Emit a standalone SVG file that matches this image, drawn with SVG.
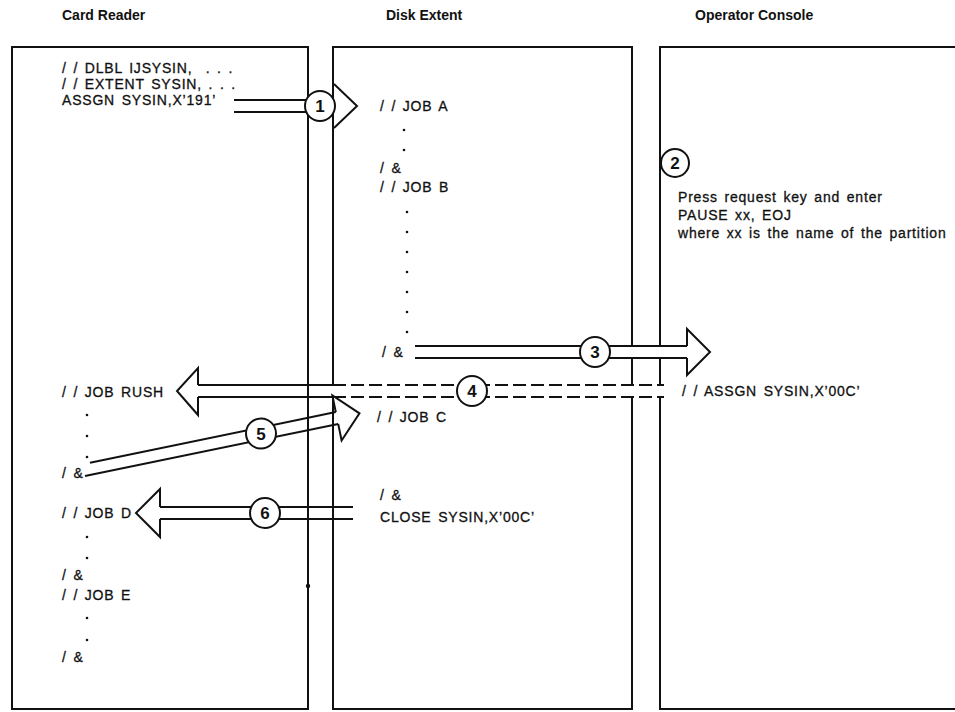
<svg xmlns="http://www.w3.org/2000/svg" width="955" height="712" viewBox="0 0 955 712">
<style>
.bg{fill:#fff}
.box{fill:none;stroke:#111;stroke-width:2}
.ln{fill:none;stroke:#111;stroke-width:2}
.dash{fill:none;stroke:#111;stroke-width:2;stroke-dasharray:13 5}
.hd{fill:#fff;stroke:#111;stroke-width:2;stroke-linejoin:miter}
.wh{fill:#fff;stroke:none}
.num circle{fill:#fff;stroke:#111;stroke-width:2}
.num text{font-family:"Liberation Sans",Arial,sans-serif;font-weight:bold;font-size:17px;text-anchor:middle;fill:#111}
.t{font-family:"Liberation Sans",Arial,sans-serif;font-size:14px;letter-spacing:0.8px;word-spacing:2px;fill:#111;stroke:#111;stroke-width:0.3}
.h{font-family:"Liberation Sans",Arial,sans-serif;font-size:14px;font-weight:bold;fill:#111}
.dot{fill:#111}
</style>
<rect class="bg" x="0" y="0" width="955" height="712"/>

<g id="card-reader">
  <text class="h" x="62" y="20">Card Reader</text>
  <rect class="box" x="12" y="47" width="296" height="662"/>
  <circle class="dot" cx="308" cy="586" r="2.2"/>
  <text class="t" xml:space="preserve" x="62" y="73">/ / DLBL IJSYSIN,  . . .</text>
  <text class="t" xml:space="preserve" x="62" y="89">/ / EXTENT SYSIN, . . .</text>
  <text class="t" x="62" y="105">ASSGN SYSIN,X’191’</text>
  <text class="t" xml:space="preserve" x="62" y="397">/ / JOB RUSH</text>
  <circle class="dot" cx="87" cy="415" r="1.3"/>
  <circle class="dot" cx="87" cy="436" r="1.3"/>
  <circle class="dot" cx="87" cy="457" r="1.3"/>
  <text class="t" xml:space="preserve" x="62" y="478">/ &amp;</text>
  <text class="t" xml:space="preserve" x="62" y="518">/ / JOB D</text>
  <circle class="dot" cx="87" cy="537" r="1.3"/>
  <circle class="dot" cx="87" cy="558" r="1.3"/>
  <text class="t" xml:space="preserve" x="62" y="580">/ &amp;</text>
  <text class="t" xml:space="preserve" x="62" y="600">/ / JOB E</text>
  <circle class="dot" cx="87" cy="618" r="1.3"/>
  <circle class="dot" cx="87" cy="640" r="1.3"/>
  <text class="t" xml:space="preserve" x="62" y="662">/ &amp;</text>
</g>

<g id="disk-extent">
  <text class="h" x="386" y="20">Disk Extent</text>
  <rect class="box" x="333" y="47" width="299" height="662"/>
  <text class="t" xml:space="preserve" x="380" y="111">/ / JOB A</text>
  <circle class="dot" cx="404" cy="130" r="1.3"/>
  <circle class="dot" cx="404" cy="150" r="1.3"/>
  <text class="t" xml:space="preserve" x="380" y="173">/ &amp;</text>
  <text class="t" xml:space="preserve" x="380" y="192">/ / JOB B</text>
  <circle class="dot" cx="407" cy="212" r="1.3"/>
  <circle class="dot" cx="407" cy="232" r="1.3"/>
  <circle class="dot" cx="407" cy="252" r="1.3"/>
  <circle class="dot" cx="407" cy="272" r="1.3"/>
  <circle class="dot" cx="407" cy="292" r="1.3"/>
  <circle class="dot" cx="407" cy="312" r="1.3"/>
  <circle class="dot" cx="407" cy="332" r="1.3"/>
  <text class="t" xml:space="preserve" x="382" y="357">/ &amp;</text>
  <text class="t" xml:space="preserve" x="377" y="422">/ / JOB C</text>
  <text class="t" xml:space="preserve" x="380" y="500">/ &amp;</text>
  <text class="t" x="380" y="522">CLOSE SYSIN,X’00C’</text>
</g>

<g id="operator-console">
  <text class="h" x="695" y="20">Operator Console</text>
  <path class="box" d="M957 47 H660 V709 H957"/>
  <text class="t" x="678" y="202">Press request key and enter</text>
  <text class="t" x="678" y="220">PAUSE xx, EOJ</text>
  <text class="t" x="678" y="238">where xx is the name of the partition</text>
  <text class="t" xml:space="preserve" x="682" y="396">/ / ASSGN SYSIN,X’00C’</text>
</g>

<g id="connectors">
  <!-- 1 -->
  <path class="ln" d="M234 100 H306 M234 112 H306"/>
  <path class="hd" d="M334 84 L357 106 L334 128"/>
  <!-- 3 -->
  <rect class="wh" x="415" y="347" width="272" height="10"/>
  <path class="ln" d="M415 346 H687 M415 358 H687"/>
  <path class="hd" d="M687 346 V329 L710 352 L687 375 V358"/>
  <!-- 4 -->
  <rect class="wh" x="331" y="386" width="333" height="10"/>
  <path class="ln" d="M198 385 H333 M198 397 H333"/>
  <path class="dash" d="M333 385 H664 M333 397 H664"/>
  <path class="hd" d="M198 385 V368 L177 391 L198 415 V397"/>
  <!-- 5 -->
  <path class="ln" d="M90 462.8 L335.8 412.1 M85 476.1 L338.2 423.9"/>
  <path class="hd" d="M335.8 412.1 L332.4 395.5 L359.5 413.4 L341.6 440.5 L338.2 423.9"/>
  <!-- 6 -->
  <path class="ln" d="M160 507 H353 M160 519 H353"/>
  <path class="hd" d="M160 507 V489 L136 513 L160 537 V519"/>
</g>

<g id="step-1" class="num"><circle cx="320" cy="106" r="15"/><text x="320" y="112">1</text></g>
<g id="step-2" class="num"><circle cx="675" cy="163" r="14"/><text x="675" y="169">2</text></g>
<g id="step-3" class="num"><circle cx="595" cy="352" r="15"/><text x="595" y="358">3</text></g>
<g id="step-4" class="num"><circle cx="472" cy="391" r="15"/><text x="472" y="397">4</text></g>
<g id="step-5" class="num"><circle cx="261" cy="433.5" r="15"/><text x="261" y="439.5">5</text></g>
<g id="step-6" class="num"><circle cx="265" cy="513" r="15"/><text x="265" y="519">6</text></g>
</svg>
